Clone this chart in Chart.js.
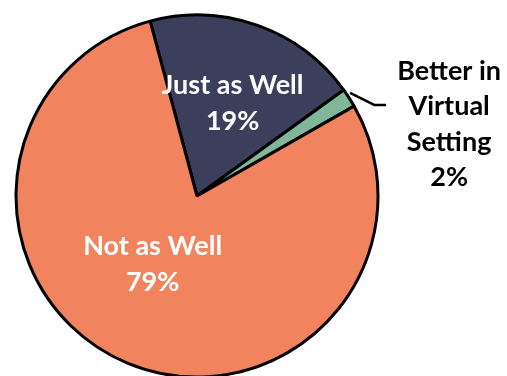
<!DOCTYPE html>
<html><head><meta charset="utf-8">
<script src="https://cdn.jsdelivr.net/npm/chart.js@4/dist/chart.umd.min.js"></script>
<style>html,body{margin:0;padding:0;background:#fff;overflow:hidden}#wrap{width:507px;height:376px;position:relative}</style>
</head><body><div id="wrap"><canvas id="c" width="507" height="376"></canvas></div>
<script>
const categories = ['Just as Well', 'Better in Virtual Setting', 'Not as Well'];
const values = [19.2, 1.7, 79.1];
const colors = ['#3C3F5C', '#7FB798', '#F1845F'];

const labelPlugin = {
  id: 'labelPlugin',
  afterDatasetsDraw(chart) {
    const ctx = chart.ctx;
    const meta = chart.getDatasetMeta(0);
    const font = 'bold 27px Lato, "Open Sans", sans-serif';
    ctx.save();
    ctx.font = font;
    ctx.textAlign = 'center';
    ctx.textBaseline = 'middle';
    const lineH = 36;
    const pct = values.map(v => Math.round(v) + '%');
    const inside = [{i: 0, ang: 21, frac: 0.55}, {i: 2, ang: 213, frac: 0.45}];
    inside.forEach(o => {
      const arc = meta.data[o.i];
      const r = arc.outerRadius * o.frac;
      const a = o.ang * Math.PI / 180;
      const cx = arc.x + r * Math.sin(a);
      const cy = arc.y - r * Math.cos(a);
      ctx.fillStyle = '#ffffff';
      ctx.fillText(categories[o.i], cx, cy - lineH / 2);
      ctx.fillText(pct[o.i], cx, cy + lineH / 2);
    });
    const arc = meta.data[1];
    const mid = (arc.startAngle + arc.endAngle) / 2;
    const sx = arc.x + arc.outerRadius * Math.cos(mid);
    const sy = arc.y + arc.outerRadius * Math.sin(mid);
    ctx.strokeStyle = '#000';
    ctx.lineWidth = 2.5;
    ctx.lineJoin = 'round';
    ctx.beginPath();
    ctx.moveTo(sx + 1, sy - 5);
    ctx.lineTo(sx + 25, sy + 7);
    ctx.lineTo(sx + 37, sy + 7);
    ctx.stroke();
    ctx.fillStyle = '#000';
    const lines = ['Better in', 'Virtual', 'Setting', pct[1]];
    const tx = sx + 100;
    const ty = sy - 27;
    lines.forEach((t, k) => ctx.fillText(t, tx, ty + k * 35.5));
    ctx.restore();
  }
};

new Chart(document.getElementById('c'), {
  type: 'pie',
  data: {
    labels: categories,
    datasets: [{
      data: values,
      backgroundColor: colors,
      borderColor: '#000',
      borderWidth: 3,
      radius: 181
    }]
  },
  options: {
    responsive: false,
    animation: false,
    rotation: -15,
    layout: {padding: {left: 0, right: 113, top: 16, bottom: 0}},
    plugins: {legend: {display: false}, tooltip: {enabled: false}}
  },
  plugins: [labelPlugin]
});
</script></body></html>
